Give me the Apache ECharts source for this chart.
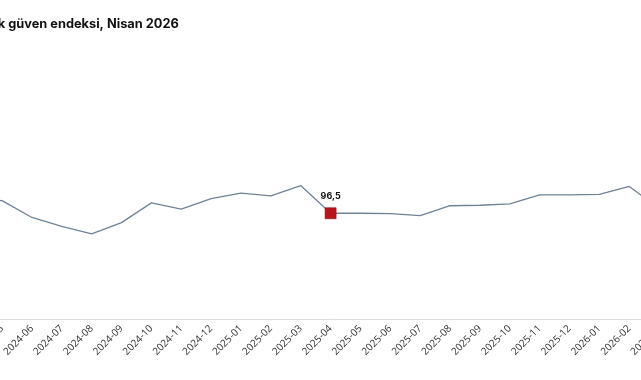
<!DOCTYPE html>
<html>
<head>
<meta charset="utf-8">
<script src="https://cdn.jsdelivr.net/npm/echarts@6/dist/echarts.min.js"></script>
<style>
html,body{margin:0;padding:0;background:#fff;overflow:hidden;width:641px;height:380px;}
#chart{position:absolute;left:-60px;top:0;width:780px;height:380px;}
</style>
</head>
<body>
<div id="chart"></div>
<script>
const titleText = 'Ekonomik güven endeksi, Nisan 2026';
const categories = ['2024-04','2024-05','2024-06','2024-07','2024-08','2024-09','2024-10','2024-11','2024-12',
  '2025-01','2025-02','2025-03','2025-04','2025-05','2025-06','2025-07','2025-08','2025-09','2025-10','2025-11','2025-12',
  '2026-01','2026-02','2026-03','2026-04'];
const values = [99.6, 99.2, 95.6, 93.7, 92.1, 94.5, 98.7, 97.4, 99.6,
  100.8, 100.2, 102.4, 96.5, 96.5, 96.4, 96.0, 98.1, 98.2, 98.5, 100.4, 100.4,
  100.5, 102.2, 97.5, 96.5];
const highlightCategory = '2025-04';

const hi = categories.indexOf(highlightCategory);
const hiData = values.map((v, i) => i === hi ? v : '-');

const chart = echarts.init(document.getElementById('chart'), null, {renderer: 'canvas'});
chart.setOption({
  animation: false,
  backgroundColor: '#fff',
  title: {
    text: titleText,
    left: -1, top: 13,
    textStyle: {fontFamily: 'Inter', fontWeight: 'bold', fontSize: 12.8, color: '#111'}
  },
  grid: {left: 30, right: 31, top: 149.8, bottom: 61},
  xAxis: {
    type: 'category',
    data: categories,
    boundaryGap: false,
    axisLine: {show: true, lineStyle: {color: '#dcdcdc', width: 1}},
    axisTick: {show: false},
    axisLabel: {rotate: 45, fontSize: 10, color: '#333', fontFamily: 'Open Sans', margin: 8, interval: 0}
  },
  yAxis: {
    type: 'value', min: 74, max: 110, show: false,
    splitLine: {show: false}
  },
  series: [
    {
      type: 'line',
      data: values,
      symbol: 'none',
      lineStyle: {color: '#6f8298', width: 1.3},
      z: 2
    },
    {
      type: 'scatter',
      data: hiData,
      symbol: 'rect',
      symbolSize: 11,
      itemStyle: {color: '#b8141b', opacity: 1, borderColor: '#8e0d12', borderWidth: 0.6},
      label: {
        show: true, position: 'top', distance: 7,
        fontSize: 9, fontWeight: 'bold', color: '#111', fontFamily: 'Inter',
        formatter: p => String(p.value).replace('.', ',')
      },
      z: 3
    }
  ]
});
</script>
</body>
</html>
